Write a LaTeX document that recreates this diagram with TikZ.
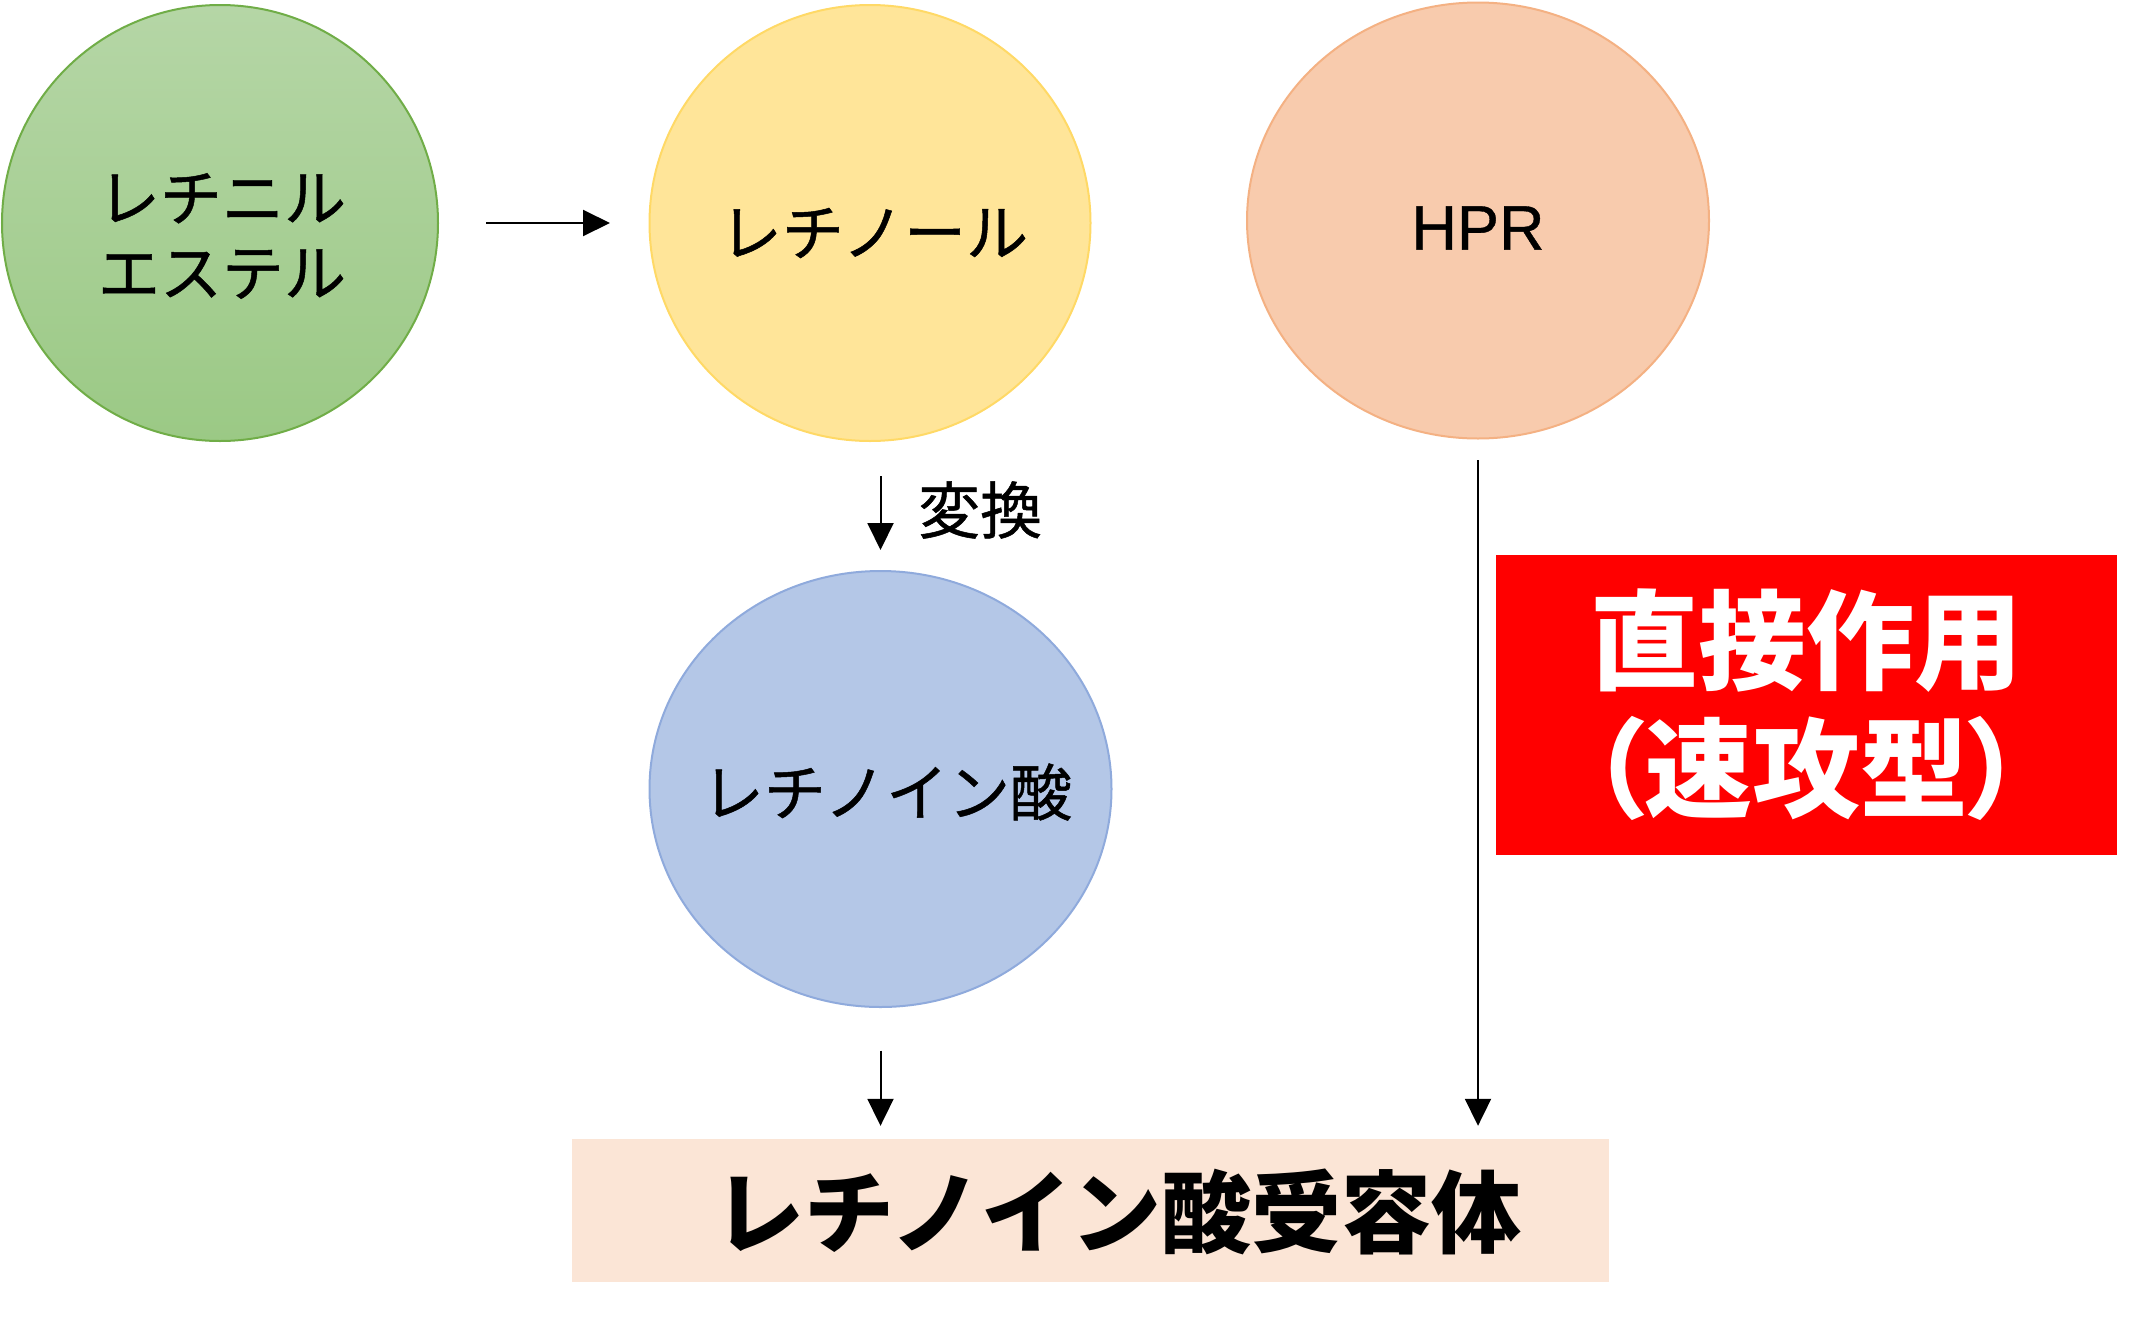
\documentclass[tikz,border=0pt]{standalone}
\usepackage{fontspec}
\usetikzlibrary{shapes.geometric,arrows.meta,calc}
\newfontfamily\jp{Noto Sans CJK JP}[FakeBold=0.8]
\newfontfamily\jpb{Noto Sans CJK JP}
\newfontfamily\jpp{Noto Sans CJK JP}[RawFeature=+palt]
\newfontfamily\lsans{Liberation Sans}[FakeBold=0.6]
\definecolor{greentop}{HTML}{B5D6A6}
\definecolor{greenbot}{HTML}{9BC985}
\definecolor{greenline}{HTML}{70AD47}
\definecolor{yellowfill}{HTML}{FFE599}
\definecolor{yellowline}{HTML}{FFD966}
\definecolor{salmonfill}{HTML}{F8CBAD}
\definecolor{salmonline}{HTML}{F4B183}
\definecolor{bluefill}{HTML}{B4C7E7}
\definecolor{blueline}{HTML}{8FAADC}
\definecolor{boxfill}{HTML}{FBE5D6}
\begin{document}
\begin{tikzpicture}[x=1pt,y=-1pt,
  circ/.style={ellipse, inner sep=0pt, line width=2pt},
  arr/.style={line width=2pt, -{Triangle[length=27pt,width=26pt]}},
  jptext/.style={font=\jp\fontsize{62}{75}\selectfont, inner sep=0pt}]
\useasboundingbox[fill=white] (0,0) rectangle (2154,1320);

\node[circ, draw=greenline, top color=greentop, bottom color=greenbot,
  minimum width=436pt, minimum height=436pt] (ester) at (220,223) {};
\node[jptext, align=center] (estertext) at (222,236) {レチニル\\エステル};
\node[circ, draw=yellowline, fill=yellowfill, minimum width=441pt, minimum height=436pt] (retinol) at (870,223) {};
\node[jptext] (retinoltext) at (874,233) {レチノール};
\node[circ, draw=salmonline, fill=salmonfill, minimum width=462pt, minimum height=436pt] (hpr) at (1478,220.5) {};
\node[font=\lsans\fontsize{63}{70}\selectfont, inner sep=0pt] (hprtext) at (1478,228) {HPR};
\node[circ, draw=blueline, fill=bluefill, minimum width=462pt, minimum height=436pt] (ra) at (880.5,789) {};
\node[jptext] (ratext) at (887,792) {レチノイン酸};

\node[fill=boxfill, minimum width=1037pt, minimum height=143pt, inner sep=0pt] (rar) at (1090,1210.5) {};
\node[font=\jpb\bfseries\fontsize{90}{100}\selectfont, inner sep=0pt] (rarlabel) at (1118,1212) {レチノイン酸受容体};

\node[fill=red, minimum width=621pt, minimum height=299.5pt, inner sep=0pt, align=center, text=white,
  font=\jpb\bfseries\fontsize{108}{128}\selectfont] (direct) at (1806.5,704.75) {直接作用\\{\jpp\bfseries （速攻型）}};

\node[jptext, anchor=west] (henkan) at (918,510) {変換};

\draw[arr, shorten <=47pt, shorten >=38.5pt] (ester.east) -- (retinol.west);
\draw[arr, shorten <=34pt, shorten >=20pt] (ra.north |- retinol.south) -- (ra.north);
\draw[arr, shorten <=42.5pt, shorten >=13pt] (ra.south) -- (ra.south |- rar.north);
\draw[arr, shorten <=20.5pt, shorten >=13pt] (hpr.south) -- (hpr.south |- rar.north);
\end{tikzpicture}
\end{document}
